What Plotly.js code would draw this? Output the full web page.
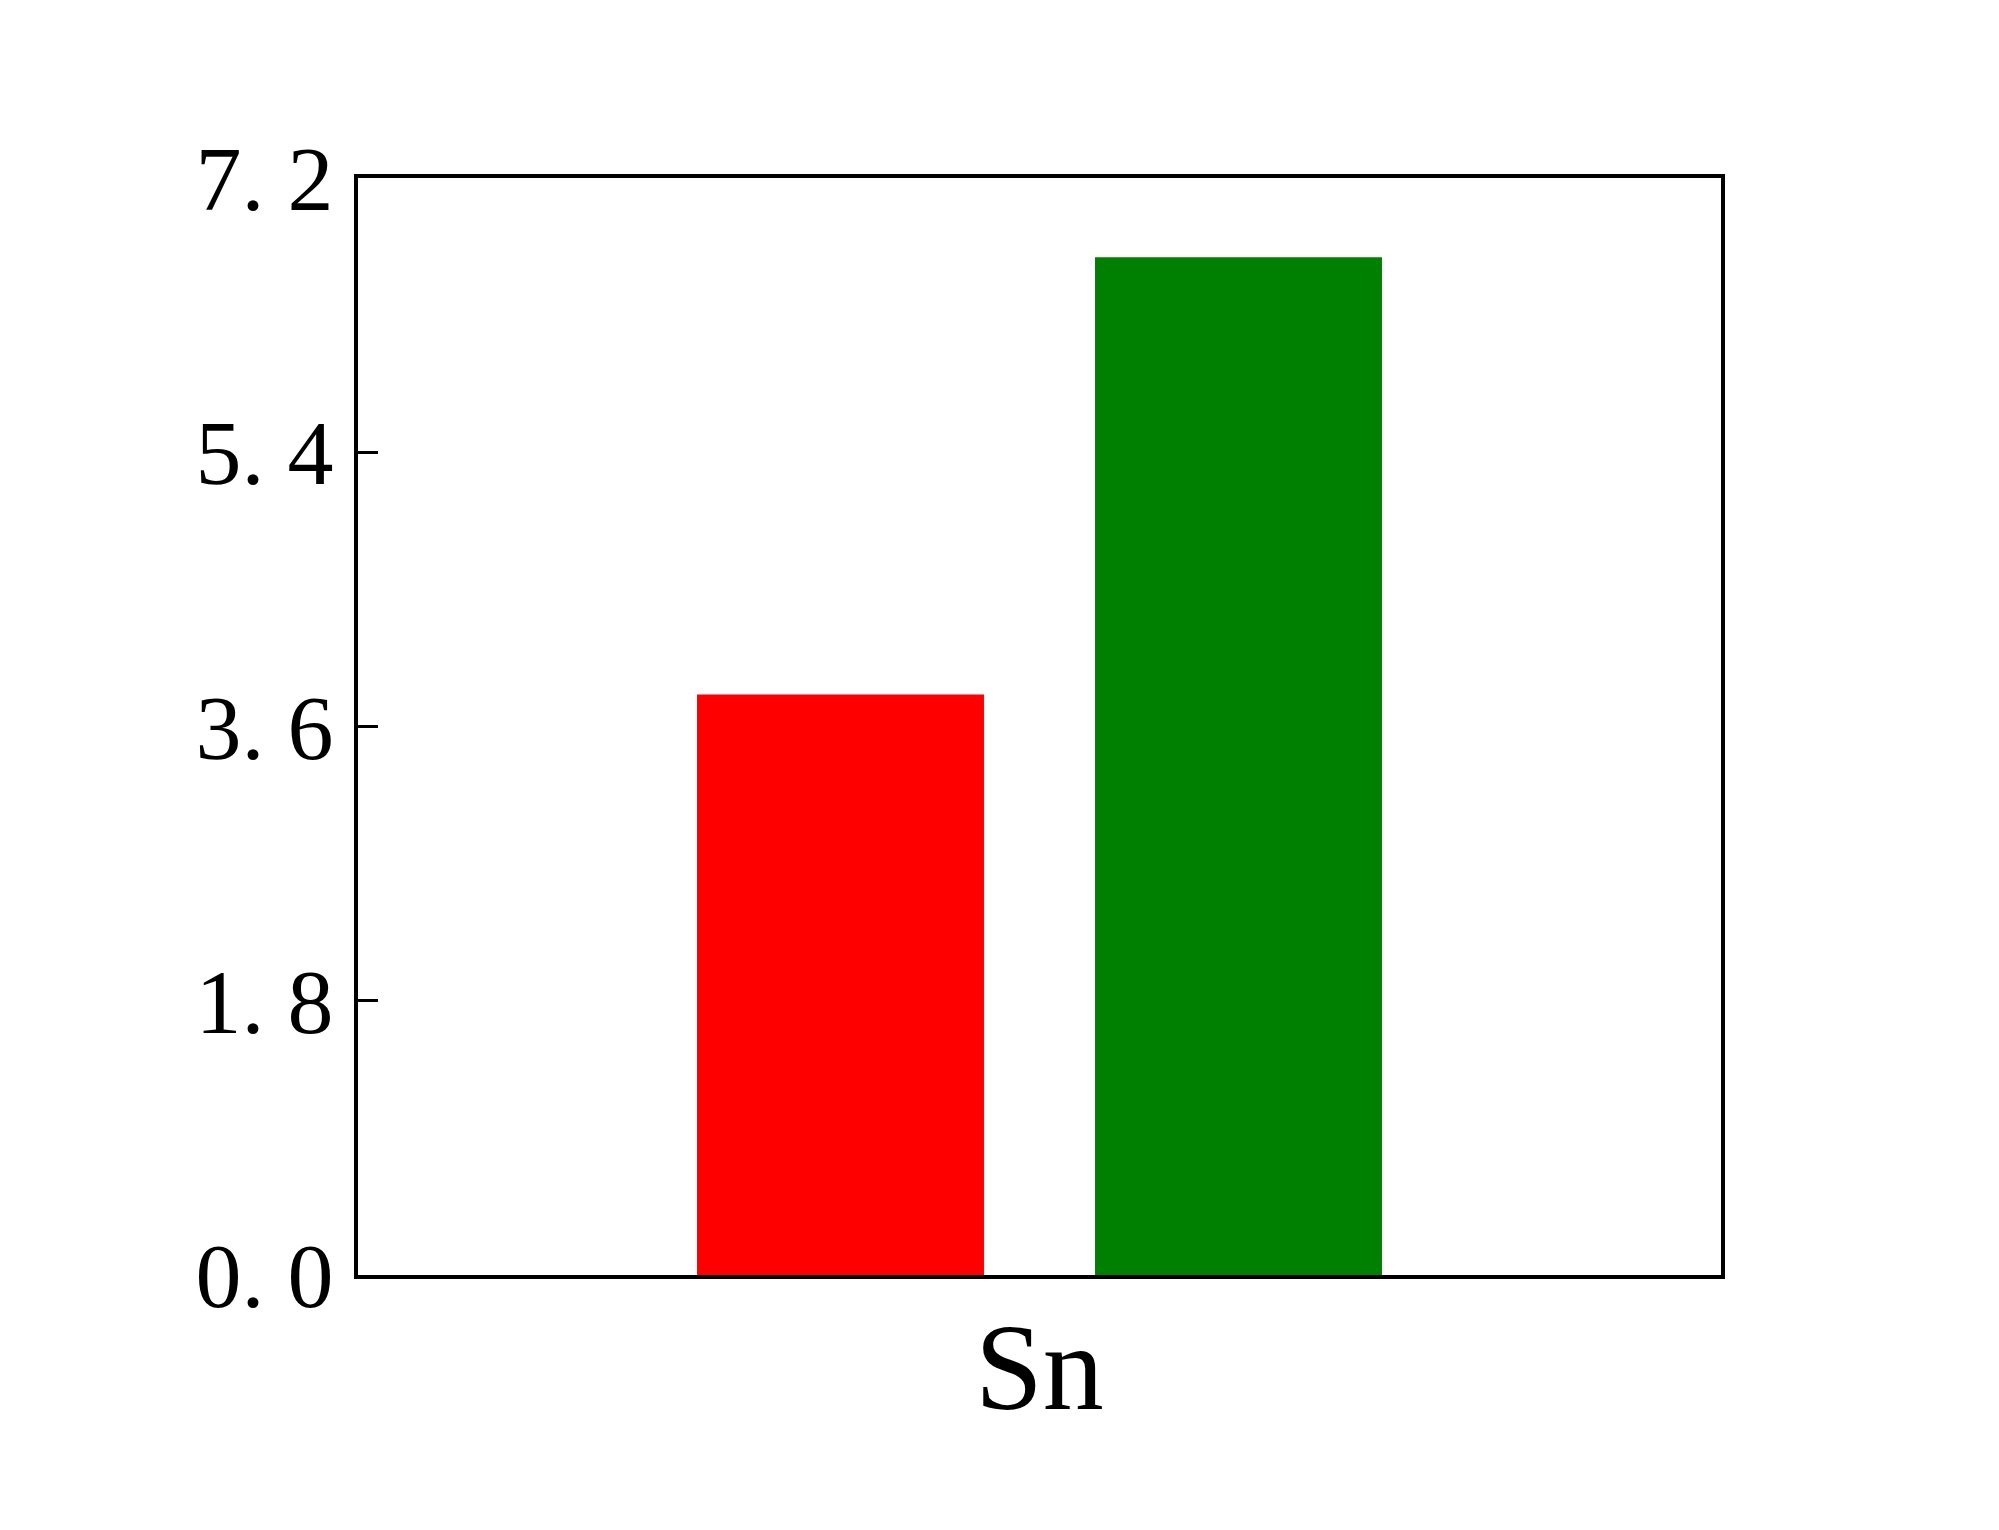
<!DOCTYPE html>
<html>
<head>
<meta charset="utf-8">
<script src="https://cdn.plot.ly/plotly-3.0.1.min.js"></script>
<style>html,body{margin:0;padding:0;background:#fff;}#chart{width:1999px;height:1530px;}</style>
</head>
<body>
<div id="chart"></div>
<script>
const categories = ['Sn'];
const seriesRed = [3.81];
const seriesGreen = [6.68];
const yTickVals = [0, 1.8, 3.6, 5.4, 7.2];
const yTickText = ['0. 0', '1. 8', '3. 6', '5. 4', '7. 2'];

const traces = [
  {type: 'bar', x: categories, y: seriesRed, marker: {color: '#ff0000'}, name: 'A', hoverinfo: 'y'},
  {type: 'bar', x: categories, y: seriesGreen, marker: {color: '#008000'}, name: 'B', hoverinfo: 'y'}
];

const layout = {
  width: 1999, height: 1530,
  paper_bgcolor: '#fff', plot_bgcolor: '#fff',
  showlegend: false,
  barmode: 'group',
  bargap: 0.416,
  bargroupgap: 0.279,
  margin: {l: 358, r: 278, t: 178, b: 255, pad: 0},
  font: {family: '"Liberation Serif", "DejaVu Serif", serif', color: '#000'},
  xaxis: {
    type: 'category',
    showline: true, mirror: true, linecolor: '#000', linewidth: 4,
    ticks: '', showgrid: false, zeroline: false,
    showticklabels: false
  },
  yaxis: {
    range: [0, 7.2],
    showline: true, mirror: true, linecolor: '#000', linewidth: 4,
    ticks: 'inside', ticklen: 20, tickwidth: 3, tickcolor: '#000',
    tickvals: yTickVals, ticktext: yTickText,
    showgrid: false, zeroline: false,
    tickfont: {size: 92, family: '"Liberation Serif", serif'},
    ticklabelstandoff: 2
  },
  annotations: categories.map(c => ({
    x: c, xref: 'x', y: 0, yref: 'paper',
    yanchor: 'top', yshift: -23, showarrow: false,
    text: c,
    font: {size: 122, family: '"Liberation Serif", serif', color: '#000'}
  }))
};

Plotly.newPlot('chart', traces, layout, {staticPlot: true, displayModeBar: false});
</script>
</body>
</html>
